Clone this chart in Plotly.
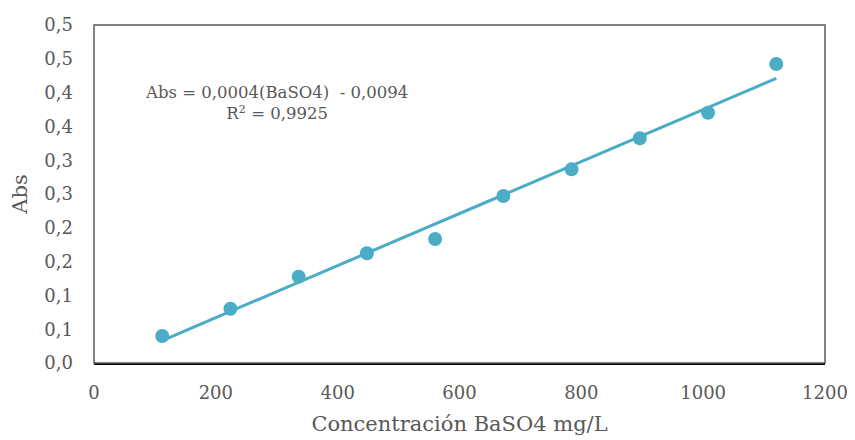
import numpy as np
import plotly.graph_objects as go

concentracion = [112, 224, 336, 448, 560, 672, 784, 896, 1008, 1120]
absorbancia = [0.0399, 0.0803, 0.1277, 0.1623, 0.1834, 0.2470, 0.2865, 0.3324, 0.3703, 0.4423]

y_tickvals = [0.00, 0.05, 0.10, 0.15, 0.20, 0.25, 0.30, 0.35, 0.40, 0.45, 0.50]
y_ticktext = ["0,0", "0,1", "0,1", "0,2", "0,2", "0,3", "0,3", "0,4", "0,4", "0,5", "0,5"]
x_tickvals = [0, 200, 400, 600, 800, 1000, 1200]

equation_text = "Abs = 0,0004(BaSO4)  - 0,0094<br>R<sup>2</sup> = 0,9925"

color = "#4BACC6"
grey = "#595959"
font_family = "DejaVu Serif"

x = np.array(concentracion, dtype=float)
y = np.array(absorbancia, dtype=float)
slope, intercept = np.polyfit(x, y, 1)
x_fit = np.array([x.min(), x.max()])
y_fit = slope * x_fit + intercept

fig = go.Figure()
fig.add_trace(go.Scatter(x=x_fit, y=y_fit, mode="lines",
                         line=dict(color=color, width=3), showlegend=False,
                         hoverinfo="skip"))
fig.add_trace(go.Scatter(x=concentracion, y=absorbancia, mode="markers",
                         marker=dict(color=color, size=14), showlegend=False))

fig.add_annotation(x=300, y=0.385, xref="x", yref="y", text=equation_text,
                   showarrow=False, align="center",
                   font=dict(family=font_family, size=16.5, color=grey))

fig.add_shape(type="rect", xref="paper", yref="paper", x0=0, y0=0, x1=1, y1=1,
              line=dict(color=grey, width=1.5), layer="above")

# page body has an 8px default margin, so the figure is sized to fit after it
fig.update_layout(
    width=847, height=432,
    margin=dict(l=86, r=30, t=17, b=77),
    plot_bgcolor="white", paper_bgcolor="white",
    font=dict(family=font_family, color=grey),
    xaxis=dict(range=[0, 1200], tickvals=x_tickvals, showgrid=False, zeroline=False,
               showline=True, linecolor="black", linewidth=1.5, ticks="",
               automargin=False,
               tickfont=dict(size=18, color=grey), ticklabelstandoff=13,
               title=dict(text="Concentración BaSO4 mg/L", font=dict(size=21, color=grey),
                          standoff=14)),
    yaxis=dict(range=[0, 0.5], tickvals=y_tickvals, ticktext=y_ticktext, showgrid=False,
               zeroline=False, showline=False, ticks="", automargin=False,
               tickfont=dict(size=18, color=grey), ticklabelstandoff=20,
               title=dict(text="Abs", font=dict(size=21, color=grey), standoff=14)),
)

fig.write_html("out.html")
